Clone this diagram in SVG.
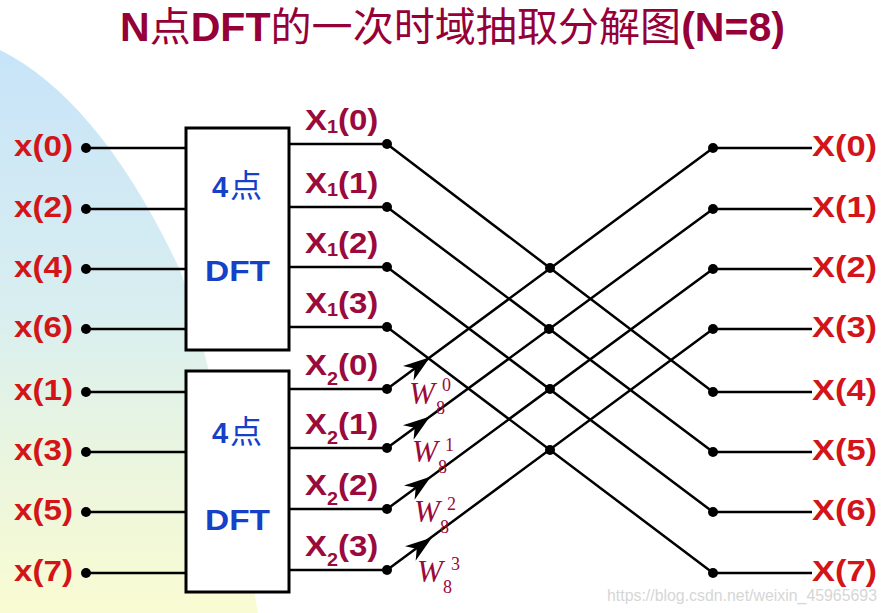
<svg xmlns="http://www.w3.org/2000/svg" xmlns:xlink="http://www.w3.org/1999/xlink" width="887" height="613" viewBox="0 0 887 613">
<style>
.ln{stroke:#000;stroke-width:2.5;fill:none}
.box{stroke:#000;stroke-width:3;fill:#fff}
.dot{fill:#000}
.lab{font-family:"Liberation Sans",Arial,sans-serif;font-weight:bold;font-size:30px;fill:#d31418}
.mid{font-family:"Liberation Sans",Arial,sans-serif;font-weight:bold;font-size:30px;fill:#9a0a3c}
.blue{font-family:"Liberation Sans",Arial,sans-serif;font-weight:bold;fill:#1740c8}
.cjk{font-family:"Noto Sans CJK SC",sans-serif;font-weight:normal}
.w{font-family:"Liberation Serif","Times New Roman",serif;fill:#9a0a3c;font-size:18px}
.wb{font-family:"Liberation Serif","Times New Roman",serif;fill:#9a0a3c;font-size:31px;font-style:italic}
.title{font-family:"Liberation Sans","Noto Sans CJK SC",sans-serif;font-weight:bold;font-size:40px;fill:#960038}
</style>
<defs>
<linearGradient id="bg" gradientUnits="userSpaceOnUse" x1="0" y1="60" x2="0" y2="613">
<stop offset="0" stop-color="#c8e4f8"/>
<stop offset="0.45" stop-color="#d8eef0"/>
<stop offset="0.7" stop-color="#e9f5e0"/>
<stop offset="1" stop-color="#f9fbd2"/>
</linearGradient>
<path id="ah" d="M0,0 L-27,-9 L-19,0 L-27,9 Z" fill="#000"/>
</defs>
<rect width="887" height="613" fill="#fff"/>
<path d="M0,50 Q100,100 180,270 Q215,370 258,613 L0,613 Z" fill="url(#bg)"/>

<text class="title" x="120" y="41" textLength="665" lengthAdjust="spacingAndGlyphs">N<tspan class="cjk">点</tspan>DFT<tspan class="cjk">的一次时域抽取分解图</tspan>(N=8)</text>

<g id="connectors">
<path class="ln" d="M86,148H186M86,209H186M86,269H186M86,329H186M86,392H186M86,452H186M86,512H186M86,573H186"/>
<path class="ln" d="M289,144H387M289,207H387M289,267H387M289,327H387M289,389H387M289,448H387M289,509H387M289,570H387"/>
<path class="ln" d="M387,144L713,392M387,207L713,452M387,267L713,512M387,327L713,573"/>
<path class="ln" d="M387,389L713,148M387,448L713,209M387,509L713,269M387,570L713,329"/>
<path class="ln" d="M713,148H812M713,209H812M713,269H812M713,329H812M713,392H812M713,452H812M713,512H812M713,573H812"/>
<use xlink:href="#ah" href="#ah" transform="translate(430,357.2) rotate(-36.4)"/>
<use xlink:href="#ah" href="#ah" transform="translate(430,416.5) rotate(-36.3)"/>
<use xlink:href="#ah" href="#ah" transform="translate(431,476.6) rotate(-36.4)"/>
<use xlink:href="#ah" href="#ah" transform="translate(432,537.5) rotate(-36.5)"/>
</g>

<g id="inputs">
<circle class="dot" cx="86" cy="148" r="5"/><circle class="dot" cx="86" cy="209" r="5"/>
<circle class="dot" cx="86" cy="269" r="5"/><circle class="dot" cx="86" cy="329" r="5"/>
<circle class="dot" cx="86" cy="392" r="5"/><circle class="dot" cx="86" cy="452" r="5"/>
<circle class="dot" cx="86" cy="512" r="5"/><circle class="dot" cx="86" cy="573" r="5"/>
<text class="lab" x="14" y="156" textLength="59" lengthAdjust="spacingAndGlyphs">x(0)</text>
<text class="lab" x="14" y="217" textLength="59" lengthAdjust="spacingAndGlyphs">x(2)</text>
<text class="lab" x="14" y="277" textLength="59" lengthAdjust="spacingAndGlyphs">x(4)</text>
<text class="lab" x="14" y="337" textLength="59" lengthAdjust="spacingAndGlyphs">x(6)</text>
<text class="lab" x="14" y="400" textLength="59" lengthAdjust="spacingAndGlyphs">x(1)</text>
<text class="lab" x="14" y="460" textLength="59" lengthAdjust="spacingAndGlyphs">x(3)</text>
<text class="lab" x="14" y="520" textLength="59" lengthAdjust="spacingAndGlyphs">x(5)</text>
<text class="lab" x="14" y="581" textLength="59" lengthAdjust="spacingAndGlyphs">x(7)</text>
</g>

<g id="dft1">
<rect class="box" x="186" y="128" width="103" height="222"/>
<text class="blue" x="237" y="197" text-anchor="middle" font-size="29">4<tspan class="cjk" font-size="32" dx="2">点</tspan></text>
<text class="blue" x="205" y="281" font-size="30" textLength="65" lengthAdjust="spacingAndGlyphs">DFT</text>
</g>
<g id="dft2">
<rect class="box" x="186" y="371" width="103" height="221"/>
<text class="blue" x="237" y="443" text-anchor="middle" font-size="29">4<tspan class="cjk" font-size="32" dx="2">点</tspan></text>
<text class="blue" x="205" y="530" font-size="30" textLength="65" lengthAdjust="spacingAndGlyphs">DFT</text>
</g>

<g id="midnodes">
<circle class="dot" cx="387" cy="144" r="5"/><circle class="dot" cx="387" cy="207" r="5"/>
<circle class="dot" cx="387" cy="267" r="5"/><circle class="dot" cx="387" cy="327" r="5"/>
<circle class="dot" cx="387" cy="389" r="5"/><circle class="dot" cx="387" cy="448" r="5"/>
<circle class="dot" cx="387" cy="509" r="5"/><circle class="dot" cx="387" cy="570" r="5"/>
<text class="mid" transform="translate(305,130) scale(1.1,1)">X<tspan font-size="18" dy="3">1</tspan><tspan dy="-3">(0)</tspan></text>
<text class="mid" transform="translate(305,193) scale(1.1,1)">X<tspan font-size="18" dy="3">1</tspan><tspan dy="-3">(1)</tspan></text>
<text class="mid" transform="translate(305,253) scale(1.1,1)">X<tspan font-size="18" dy="3">1</tspan><tspan dy="-3">(2)</tspan></text>
<text class="mid" transform="translate(305,313) scale(1.1,1)">X<tspan font-size="18" dy="3">1</tspan><tspan dy="-3">(3)</tspan></text>
<text class="mid" transform="translate(305,375) scale(1.1,1)">X<tspan font-size="18" dy="10">2</tspan><tspan dy="-10">(0)</tspan></text>
<text class="mid" transform="translate(305,434) scale(1.1,1)">X<tspan font-size="18" dy="10">2</tspan><tspan dy="-10">(1)</tspan></text>
<text class="mid" transform="translate(305,495) scale(1.1,1)">X<tspan font-size="18" dy="10">2</tspan><tspan dy="-10">(2)</tspan></text>
<text class="mid" transform="translate(305,556) scale(1.1,1)">X<tspan font-size="18" dy="10">2</tspan><tspan dy="-10">(3)</tspan></text>
</g>

<g id="twiddles">
<text class="wb" x="409" y="404">W</text><text class="w" x="436" y="414">8</text><text class="w" x="442" y="391">0</text>
<text class="wb" x="412" y="462">W</text><text class="w" x="438" y="473">8</text><text class="w" x="445" y="451">1</text>
<text class="wb" x="414" y="522">W</text><text class="w" x="440" y="533">8</text><text class="w" x="447" y="510">2</text>
<text class="wb" x="417" y="582">W</text><text class="w" x="443" y="593">8</text><text class="w" x="451" y="570">3</text>
</g>

<g id="crossnodes">
<circle class="dot" cx="550" cy="268" r="5"/><circle class="dot" cx="549" cy="329" r="5"/>
<circle class="dot" cx="550" cy="389" r="5"/><circle class="dot" cx="550" cy="450" r="5"/>
</g>

<g id="outputs">
<circle class="dot" cx="713" cy="148" r="5"/><circle class="dot" cx="713" cy="209" r="5"/>
<circle class="dot" cx="713" cy="269" r="5"/><circle class="dot" cx="713" cy="329" r="5"/>
<circle class="dot" cx="713" cy="392" r="5"/><circle class="dot" cx="713" cy="452" r="5"/>
<circle class="dot" cx="713" cy="512" r="5"/><circle class="dot" cx="713" cy="573" r="5"/>
<text class="lab" x="812" y="156" textLength="65" lengthAdjust="spacingAndGlyphs">X(0)</text>
<text class="lab" x="812" y="217" textLength="65" lengthAdjust="spacingAndGlyphs">X(1)</text>
<text class="lab" x="812" y="277" textLength="65" lengthAdjust="spacingAndGlyphs">X(2)</text>
<text class="lab" x="812" y="337" textLength="65" lengthAdjust="spacingAndGlyphs">X(3)</text>
<text class="lab" x="812" y="400" textLength="65" lengthAdjust="spacingAndGlyphs">X(4)</text>
<text class="lab" x="812" y="460" textLength="65" lengthAdjust="spacingAndGlyphs">X(5)</text>
<text class="lab" x="812" y="520" textLength="65" lengthAdjust="spacingAndGlyphs">X(6)</text>
<text class="lab" x="812" y="581" textLength="65" lengthAdjust="spacingAndGlyphs">X(7)</text>
</g>

<text x="607" y="601" font-family="Liberation Sans,Arial,sans-serif" font-size="16" fill="#d6d6d6" textLength="270" lengthAdjust="spacingAndGlyphs">https://blog.csdn.net/weixin_45965693</text>
</svg>
